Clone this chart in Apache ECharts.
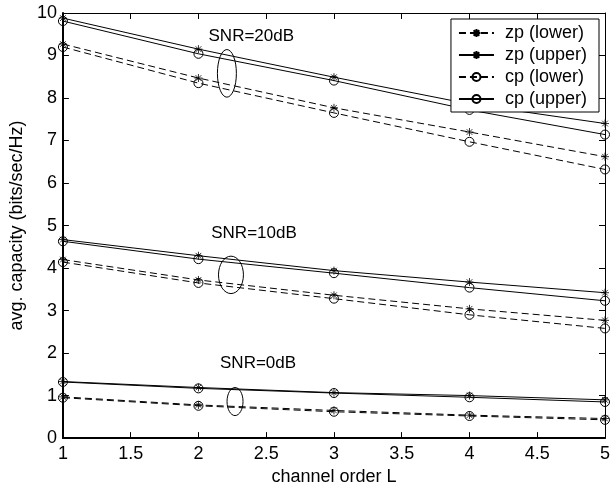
<!DOCTYPE html>
<html>
<head>
<meta charset="utf-8">
<script src="https://cdn.jsdelivr.net/npm/echarts@6/dist/echarts.min.js"></script>
<style>
html,body{margin:0;padding:0;background:#fff;}
#c{width:615px;height:491px;}
</style>
</head>
<body>
<div id="c"></div>
<script>
// channel order L
const channelOrder = [1, 2, 3, 4, 5];
const seriesNames = ['zp (lower)', 'zp (upper)', 'cp (lower)', 'cp (upper)'];

// SNR = 20 dB
const zpLower20 = [9.27, 8.47, 7.77, 7.20, 6.62];
const zpUpper20 = [9.88, 9.15, 8.49, 7.86, 7.40];
const cpLower20 = [9.20, 8.35, 7.65, 6.97, 6.32];
const cpUpper20 = [9.81, 9.04, 8.41, 7.72, 7.14];
// SNR = 10 dB
const zpLower10 = [4.20, 3.72, 3.36, 3.04, 2.77];
const zpUpper10 = [4.67, 4.29, 3.94, 3.67, 3.42];
const cpLower10 = [4.14, 3.65, 3.28, 2.90, 2.58];
const cpUpper10 = [4.63, 4.21, 3.88, 3.54, 3.23];
// SNR = 0 dB
const zpLower0 = [0.97, 0.78, 0.65, 0.54, 0.46];
const zpUpper0 = [1.33, 1.19, 1.07, 1.00, 0.90];
const cpLower0 = [0.95, 0.76, 0.62, 0.52, 0.43];
const cpUpper0 = [1.32, 1.17, 1.06, 0.96, 0.85];

// tick labels
const xTicks = [1, 1.5, 2, 2.5, 3, 3.5, 4, 4.5, 5];
const yTicks = [0, 1, 2, 3, 4, 5, 6, 7, 8, 9, 10];

// annotations (data units)
const snrText = ['SNR=20dB', 'SNR=10dB', 'SNR=0dB'];
const snrTextX = [2.39, 2.41, 2.44];
const snrTextY = [9.44, 4.81, 1.77];
const ellCx = [2.21, 2.24, 2.27];
const ellCy = [8.58, 3.84, 0.86];
const ellRx = [0.07, 0.092, 0.059];
const ellRy = [0.56, 0.44, 0.33];

const FONT = 'Liberation Sans, Arial, Helvetica, sans-serif';
const star = 'path://M0 -10 L0 10 M-10 0 L10 0 M-7.07 -7.07 L7.07 7.07 M-7.07 7.07 L7.07 -7.07';

const styles = {
  'zp (lower)': {symbol: star, dashed: true, fill: '#000'},
  'zp (upper)': {symbol: star, dashed: false, fill: '#000'},
  'cp (lower)': {symbol: 'circle', dashed: true, fill: 'rgba(0,0,0,0)'},
  'cp (upper)': {symbol: 'circle', dashed: false, fill: 'rgba(0,0,0,0)'}
};

const groups = [
  {'zp (lower)': zpLower20, 'zp (upper)': zpUpper20, 'cp (lower)': cpLower20, 'cp (upper)': cpUpper20},
  {'zp (lower)': zpLower10, 'zp (upper)': zpUpper10, 'cp (lower)': cpLower10, 'cp (upper)': cpUpper10},
  {'zp (lower)': zpLower0, 'zp (upper)': zpUpper0, 'cp (lower)': cpLower0, 'cp (upper)': cpUpper0}
];

const series = [];
groups.forEach(g => {
  seriesNames.forEach(name => {
    const st = styles[name];
    series.push({
      name: name,
      type: 'line',
      xAxisIndex: 0, yAxisIndex: 0,
      data: channelOrder.map((x, i) => [x, g[name][i]]),
      symbol: st.symbol,
      symbolSize: st.symbol === 'circle' ? 9 : 8,
      showAllSymbol: true,
      lineStyle: {color: '#000', width: 1, type: st.dashed ? [7, 4] : 'solid'},
      itemStyle: {color: st.fill, borderColor: '#000', borderWidth: st.symbol === 'circle' ? 1 : 0.8},
      emphasis: {disabled: true},
      animation: false,
      z: 3
    });
  });
});

const axisCommonX = {
  type: 'value', min: 1, max: 5, interval: 0.5,
  axisTick: {show: true, inside: true, length: 6, lineStyle: {color: '#000'}},
  splitLine: {show: false}
};
const axisCommonY = {
  type: 'value', min: 0, max: 10, interval: 1,
  axisTick: {show: true, inside: true, length: 6, lineStyle: {color: '#000'}},
  splitLine: {show: false}
};

const chart = echarts.init(document.getElementById('c'));
chart.setOption({
  backgroundColor: '#fff',
  animation: false,
  grid: {left: 59, right: 10, top: 13, bottom: 47, containLabel: false},
  legend: {
    data: seriesNames,
    orient: 'vertical',
    right: 16, top: 19,
    padding: [5, 12, 4, 7],
    itemGap: 4,
    itemWidth: 35,
    itemHeight: 10,
    borderColor: '#000', borderWidth: 1,
    backgroundColor: '#fff',
    textStyle: {fontFamily: FONT, fontSize: 18, color: '#000', padding: [0, 0, 0, 6]},
    selectedMode: false
  },
  xAxis: [
    Object.assign({}, axisCommonX, {
      position: 'bottom',
      axisLine: {show: true, onZero: false, lineStyle: {color: '#000', width: 2}},
      name: 'channel order L', nameLocation: 'middle', nameGap: 26,
      nameTextStyle: {fontFamily: FONT, fontSize: 18, color: '#000'},
      axisLabel: {show: true, margin: 7, color: '#000', fontFamily: FONT, fontSize: 18,
        formatter: v => (xTicks.indexOf(v) >= 0 ? String(v) : '')}
    }),
    Object.assign({}, axisCommonX, {position: 'top', axisLabel: {show: false},
      axisLine: {show: true, onZero: false, lineStyle: {color: '#000', width: 1}}})
  ],
  yAxis: [
    Object.assign({}, axisCommonY, {
      position: 'left',
      axisLine: {show: true, onZero: false, lineStyle: {color: '#000', width: 2}},
      name: 'avg. capacity (bits/sec/Hz)', nameLocation: 'middle', nameGap: 28,
      nameTextStyle: {fontFamily: FONT, fontSize: 18, color: '#000'},
      axisLabel: {show: true, margin: 6, color: '#000', fontFamily: FONT, fontSize: 18,
        formatter: v => (yTicks.indexOf(v) >= 0 ? String(v) : '')}
    }),
    Object.assign({}, axisCommonY, {position: 'right', axisLabel: {show: false},
      axisLine: {show: true, onZero: false, lineStyle: {color: '#000', width: 1}}})
  ],
  series: series
});

// annotations positioned through the chart's own scales
const graphics = [];
for (let i = 0; i < snrText.length; i++) {
  const c = chart.convertToPixel({gridIndex: 0}, [ellCx[i], ellCy[i]]);
  const e = chart.convertToPixel({gridIndex: 0}, [ellCx[i] + ellRx[i], ellCy[i] + ellRy[i]]);
  graphics.push({
    type: 'ellipse', z: 10,
    shape: {cx: c[0], cy: c[1], rx: Math.abs(e[0] - c[0]), ry: Math.abs(e[1] - c[1])},
    style: {fill: 'none', stroke: '#000', lineWidth: 1}
  });
  const t = chart.convertToPixel({gridIndex: 0}, [snrTextX[i], snrTextY[i]]);
  graphics.push({
    type: 'text', z: 10, x: t[0], y: t[1],
    style: {text: snrText[i], fontFamily: FONT, fontSize: 17, fill: '#000', align: 'center', verticalAlign: 'middle'}
  });
}
chart.setOption({graphic: graphics});
</script>
</body>
</html>
